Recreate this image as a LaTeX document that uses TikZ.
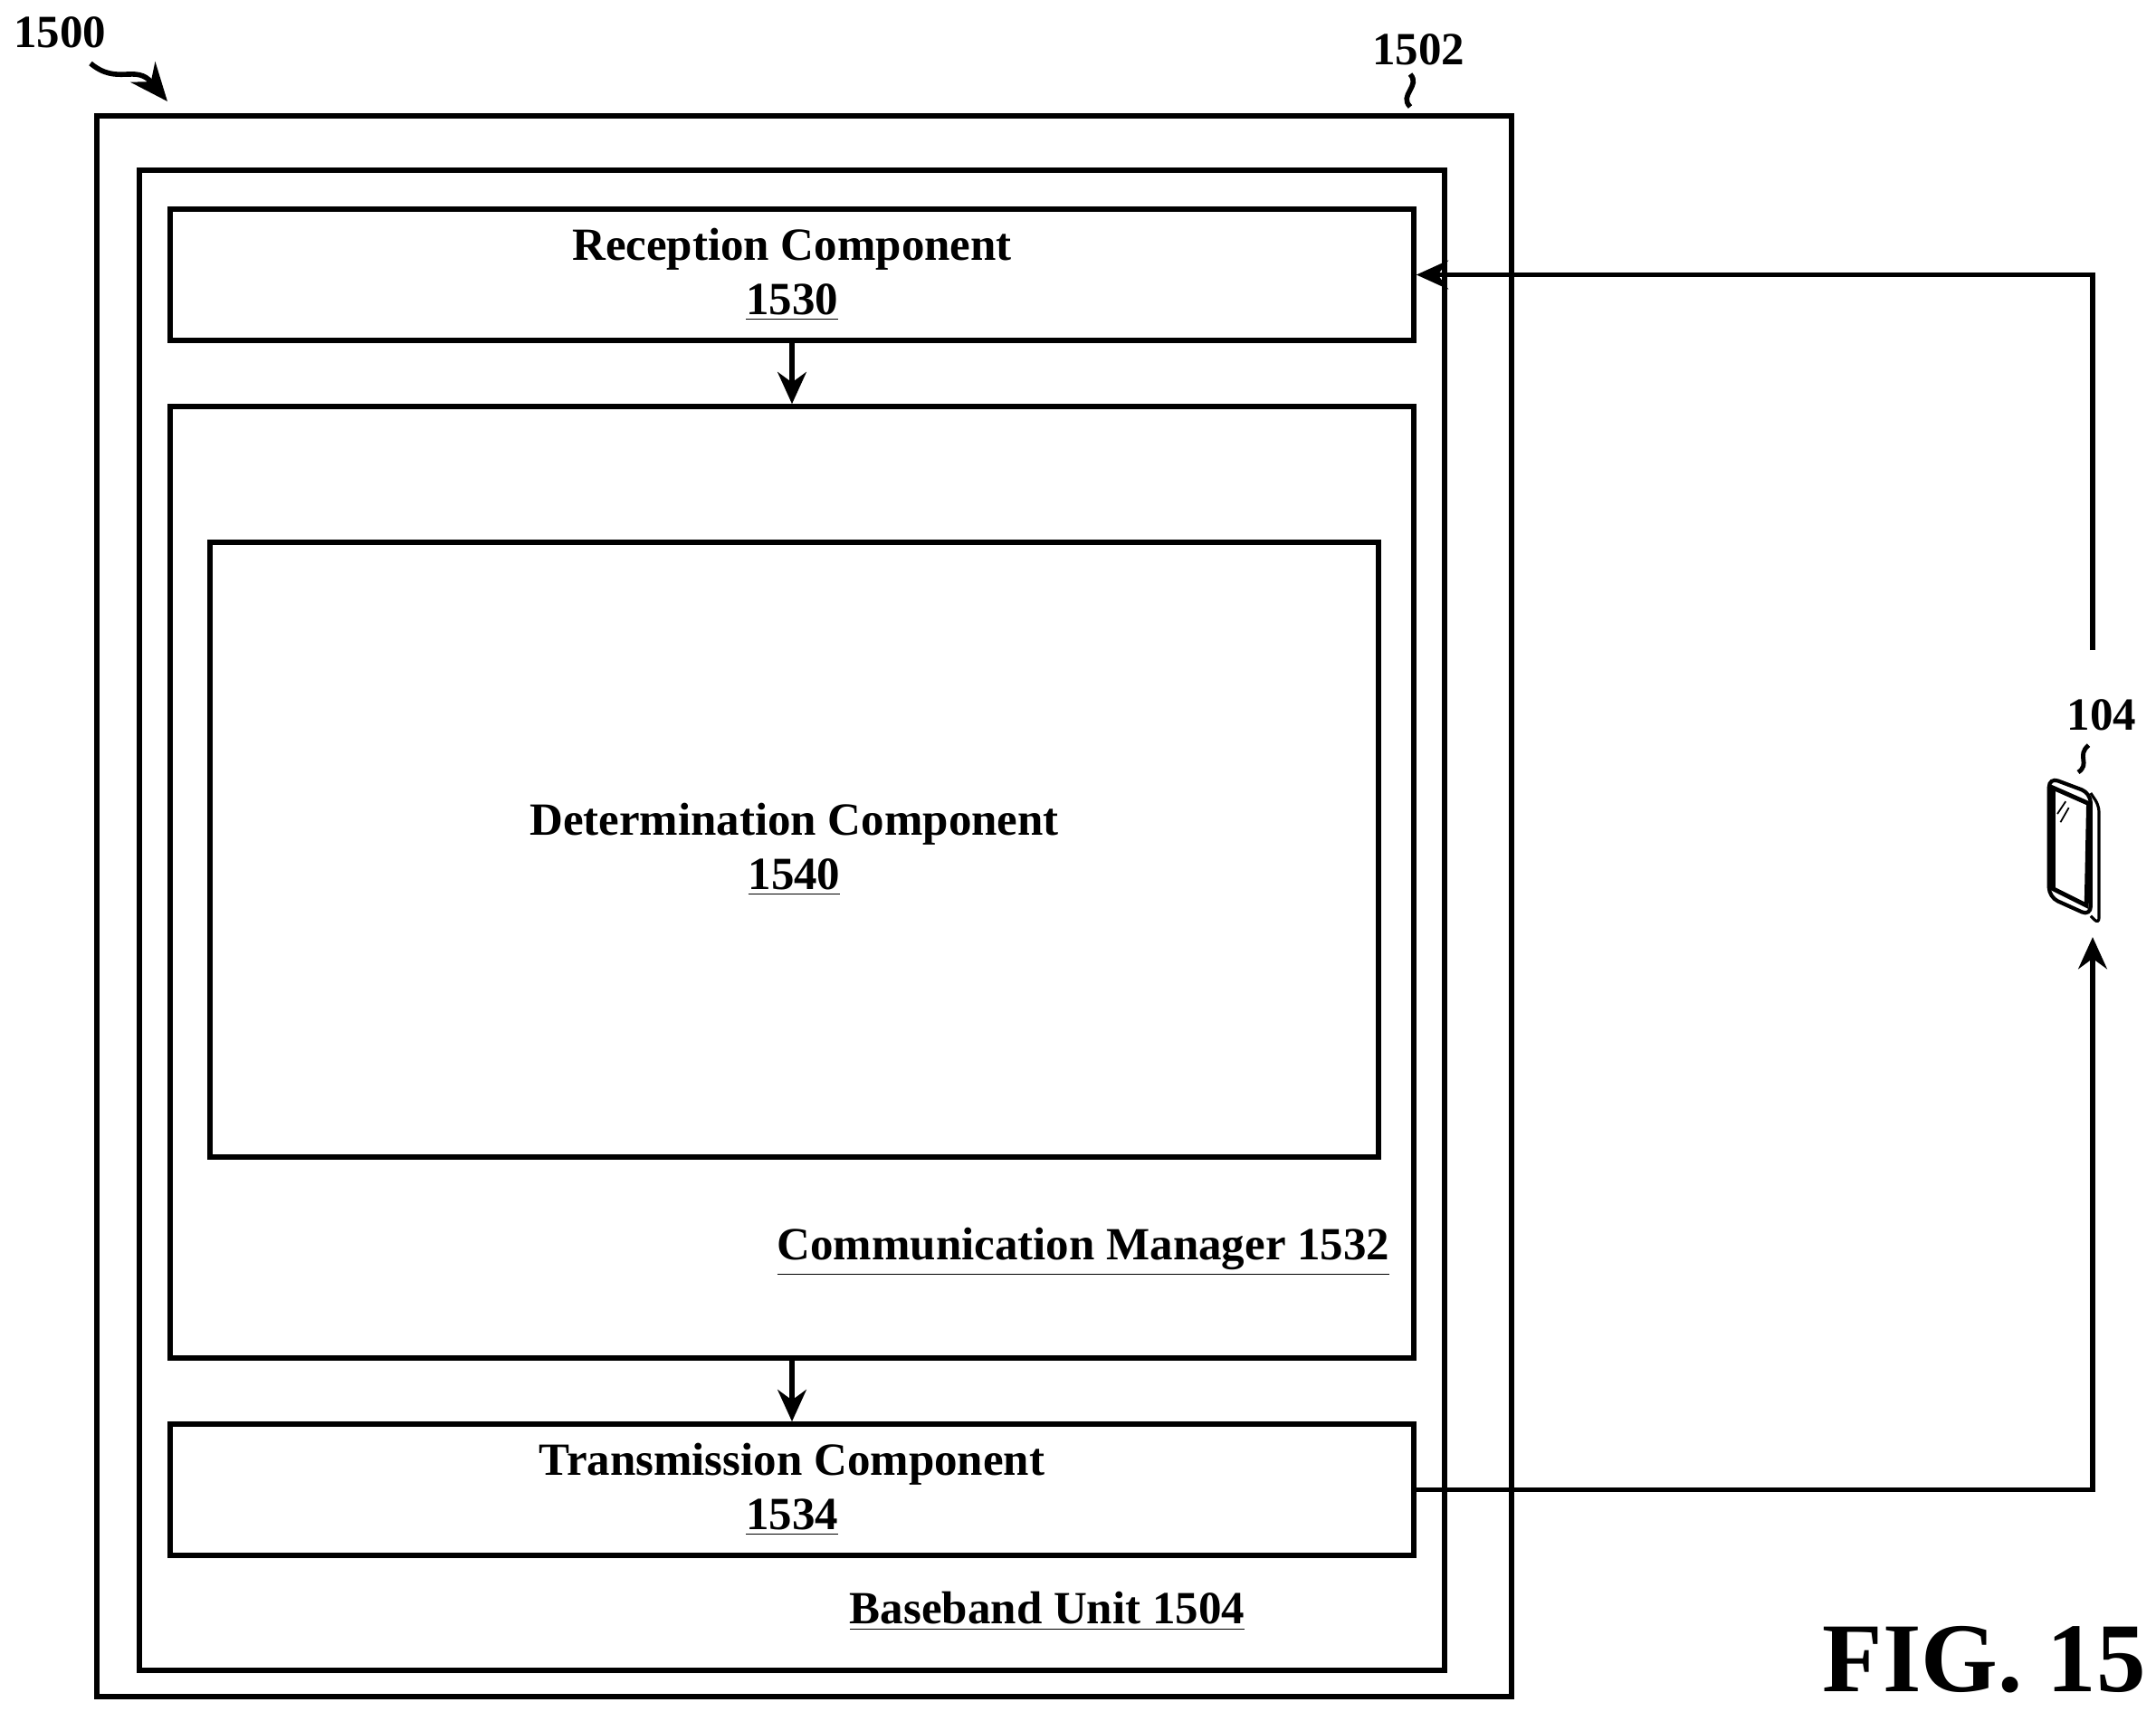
\documentclass[tikz,border=0pt]{standalone}
\usepackage{fontspec}
\setmainfont{Liberation Serif}
\usetikzlibrary{arrows.meta, positioning, calc}
\tikzset{
  box/.style={draw, line width=1.6pt, inner sep=0pt},
  lbl/.style={font=\bfseries\fontsize{14.5}{17}\selectfont, align=center},
  arrow/.style={line width=1.6pt, -{Stealth[length=10pt,width=9pt]}},
}
\begin{document}
\begin{tikzpicture}[x=1cm,y=1cm]
    \useasboundingbox (0,0) rectangle (23.82,-18.90);
    % Boxes
    \node[box, minimum width=15.63cm, minimum height=17.46cm] (ran) at (8.885,-10.01) {};
    \node[box, minimum width=14.42cm, minimum height=16.57cm] (bbu) at (8.75,-10.165) {};
    \node[box, minimum width=13.74cm, minimum height=1.45cm] (rx) at (8.75,-3.035) {};
    \node[box, minimum width=13.74cm, minimum height=10.51cm] (cm) at (8.75,-9.745) {};
    \node[box, minimum width=12.91cm, minimum height=6.79cm] (det) at (8.775,-9.385) {};
    \node[box, minimum width=13.74cm, minimum height=1.45cm] (tx) at (8.75,-16.455) {};
    % Labels
    \node[lbl] at (rx) {Reception Component\\\underline{1530}};
    \node[lbl] at (det) {Determination Component\\\underline{1540}};
    \node[lbl] at (tx) {Transmission Component\\\underline{1534}};
    \node[lbl] at (11.97,-13.83) {\underline{Communication Manager 1532}};
    \node[lbl] at (11.57,-17.80) {\underline{Baseband Unit 1504}};
    \node[lbl] (n1500) at (0.66,-0.36) {1500};
    \node[lbl] (n1502) at (15.67,-0.55) {1502};
    \node[lbl] (n104) at (23.22,-7.90) {104};
    \node[font=\bfseries\fontsize{31}{34}\selectfont] (fig) at (21.92,-18.33) {FIG. 15};
    % UE
    \coordinate (ue) at (22.96,-9.22);
    \begin{scope}[shift={(ue)}, line width=1.2pt, scale=1.15]
      \draw[rounded corners=3pt] (-0.28,0.55) -- (0.12,0.40) -- (0.12,-0.78) -- (-0.28,-0.60) -- cycle;
      \draw[line width=1.4pt] (-0.24,0.45) -- (0.10,0.30) -- (0.08,-0.68) -- (-0.24,-0.52) -- cycle;
      \draw[line width=0.9pt, rounded corners=2pt] (0.12,0.40) -- (0.20,0.28) -- (0.20,-0.86) -- (0.12,-0.78);
      \draw[line width=0.5pt] (-0.20,0.20) -- (-0.12,0.32) (-0.17,0.12) -- (-0.09,0.26);
      \draw[line width=1.4pt] (0.0,0.60) .. controls (0.12,0.68) and (-0.02,0.76) .. (0.10,0.86);
    \end{scope}
    % Squiggles
    \draw[line width=1.6pt] (15.58,-1.18) .. controls (15.45,-1.05) and (15.70,-0.95) .. (15.58,-0.82);
    \draw[line width=1.6pt, -{Stealth[length=12pt,width=10pt]}] (1.0,-0.70) .. controls (1.3,-0.95) and (1.5,-0.70) .. (1.85,-1.12);
    % Flow
    \draw[arrow] (rx) -- (cm);
    \draw[arrow] (cm) -- (tx);
    \draw[arrow] (23.12,-7.18) |- (rx.east);
    \draw[arrow] (tx.east) -| (23.12,-10.35);
\end{tikzpicture}
\end{document}
